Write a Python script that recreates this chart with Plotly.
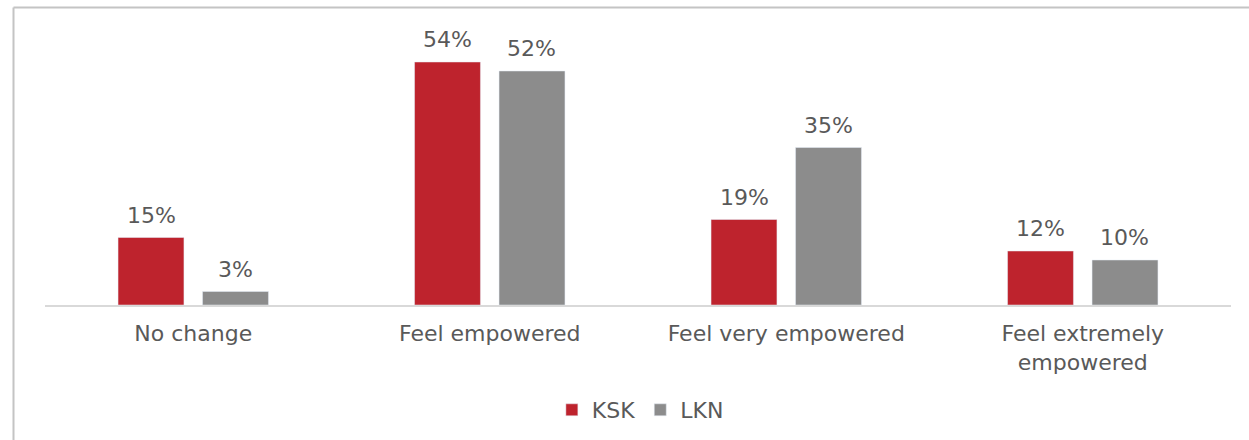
import plotly.graph_objects as go

categories = ["No change", "Feel empowered", "Feel very empowered", "Feel extremely<br>empowered"]
ksk = [15, 54, 19, 12]
lkn = [3, 52, 35, 10]

RED = "#BE232D"
GREY = "#8C8C8C"
TEXT = "#595959"
FONT = "DejaVu Sans"
SIZE = 22

W, H = 1249, 440
ML, MR, MT, MB = 45, 18, 35, 135
plot_w = W - ML - MR
plot_h = H - MT - MB


def px_x(p):
    return (p - ML) / plot_w


def px_y(q):
    return (H - MB - q) / plot_h


fig = go.Figure()
fig.add_trace(go.Bar(name="KSK", x=categories, y=ksk, marker_color=RED))
fig.add_trace(go.Bar(name="LKN", x=categories, y=lkn, marker_color=GREY))

# value labels above each bar
for vals, shift in ((ksk, -42), (lkn, 42)):
    for c, v in zip(categories, vals):
        fig.add_annotation(x=c, y=v, text=f"{v}%", showarrow=False,
                           xshift=shift, yanchor="bottom", yshift=8,
                           font=dict(family=FONT, size=SIZE, color=TEXT))

# frame lines along top and left edge
fig.add_shape(type="line", xref="paper", yref="paper",
              x0=px_x(13.5), x1=px_x(W + 5), y0=px_y(7.5), y1=px_y(7.5),
              line=dict(color="#C4C4C4", width=2))
fig.add_shape(type="line", xref="paper", yref="paper",
              x0=px_x(13.5), x1=px_x(13.5), y0=px_y(7.5), y1=px_y(H + 5),
              line=dict(color="#C4C4C4", width=2))

fig.update_layout(
    width=W, height=H,
    margin=dict(l=ML, r=MR, t=MT, b=MB, autoexpand=False),
    paper_bgcolor="white", plot_bgcolor="white",
    barmode="group", bargap=0.43, bargroupgap=0.22,
    font=dict(family=FONT, size=SIZE, color=TEXT),
    showlegend=True,
    legend=dict(orientation="h", x=0.502, xanchor="center", y=px_y(410), yanchor="middle",
                font=dict(family=FONT, size=SIZE, color=TEXT),
                itemwidth=30, traceorder="normal"),
    xaxis=dict(showline=True, linecolor="#D9D9D9", linewidth=1.5, ticks="",
               showgrid=False, ticklabelstandoff=8, automargin=False,
               tickfont=dict(family=FONT, size=SIZE, color=TEXT)),
    yaxis=dict(range=[0, 60], visible=False, showgrid=False, automargin=False),
)

fig.write_html("out.html")
